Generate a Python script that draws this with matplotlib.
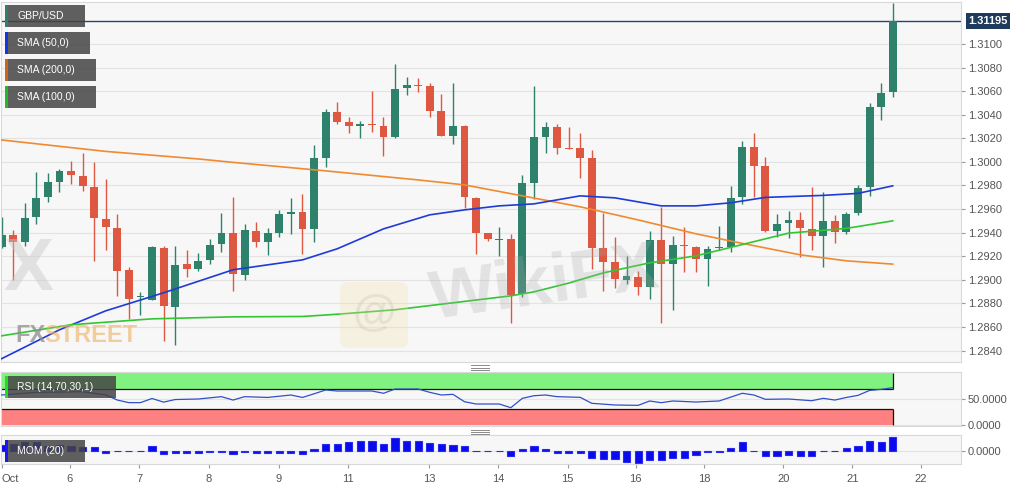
import numpy as np
import matplotlib
matplotlib.use('Agg')
import matplotlib.pyplot as plt
from matplotlib.patches import Rectangle, FancyBboxPatch
from matplotlib.lines import Line2D
import matplotlib.transforms as mtransforms

plt.rcParams['font.family'] = ['Liberation Sans', 'DejaVu Sans']

# GBP/USD 4h candles
opens = [1.29281, 1.29380, 1.29323, 1.29530, 1.29700, 1.29832, 1.29926, 1.29883, 1.29790, 1.29516,
         1.29442, 1.29083, 1.28850, 1.28829, 1.29267, 1.28772, 1.29132, 1.29092, 1.29168, 1.29301,
         1.29400, 1.29041, 1.29417, 1.29323, 1.29395, 1.29558, 1.29578, 1.29431, 1.30031, 1.30426,
         1.30336, 1.30305, 1.30322, 1.30307, 1.30209, 1.30625, 1.30653, 1.30644, 1.30435, 1.30223,
         1.30307, 1.29691, 1.29395, 1.29338, 1.29346, 1.28880, 1.29824, 1.30214, 1.30299, 1.30121,
         1.30116, 1.30031, 1.29267, 1.29154, 1.28999, 1.29027, 1.28942, 1.29338, 1.29134, 1.29295,
         1.29281, 1.29177, 1.29267, 1.29281, 1.29700, 1.30124, 1.29966, 1.29417, 1.29479, 1.29507,
         1.29429, 1.29372, 1.29501, 1.29408, 1.29564, 1.29785, 1.30469, 1.30596]
highs = [1.29535, 1.29423, 1.29649, 1.29912, 1.29904, 1.29938, 1.30011, 1.30073, 1.29997, 1.29855,
         1.29558, 1.29106, 1.28897, 1.29289, 1.29289, 1.29289, 1.29253, 1.29225, 1.29344, 1.29564,
         1.29705, 1.29473, 1.29488, 1.29437, 1.29592, 1.29691, 1.29725, 1.30144, 1.30449, 1.30506,
         1.30379, 1.30347, 1.30602, 1.30379, 1.30828, 1.30718, 1.30709, 1.30672, 1.30574, 1.30672,
         1.30313, 1.29705, 1.29401, 1.29446, 1.29389, 1.29889, 1.30644, 1.30341, 1.30319, 1.30299,
         1.30248, 1.30102, 1.29569, 1.29366, 1.29205, 1.29077, 1.29414, 1.29620, 1.29372, 1.29451,
         1.29287, 1.29287, 1.29459, 1.29798, 1.30178, 1.30243, 1.30044, 1.29558, 1.29581, 1.29573,
         1.29790, 1.29747, 1.29550, 1.29573, 1.29804, 1.30503, 1.30667, 1.31350]
lows = [1.29270, 1.28999, 1.29287, 1.29471, 1.29658, 1.29742, 1.29813, 1.29753, 1.29162, 1.29253,
        1.28865, 1.28665, 1.28702, 1.28825, 1.28484, 1.28447, 1.29027, 1.29077, 1.29132, 1.29234,
        1.28908, 1.28999, 1.29281, 1.29211, 1.29361, 1.29386, 1.29217, 1.29318, 1.29955, 1.30322,
        1.30248, 1.30200, 1.30257, 1.30053, 1.30200, 1.30568, 1.30591, 1.30379, 1.30216, 1.30152,
        1.29607, 1.29219, 1.29332, 1.29202, 1.28637, 1.28852, 1.29683, 1.30073, 1.30067, 1.30106,
        1.29861, 1.29092, 1.28905, 1.28928, 1.28965, 1.28871, 1.28837, 1.28637, 1.28744, 1.29064,
        1.29064, 1.28948, 1.29253, 1.29234, 1.29643, 1.29705, 1.29403, 1.29366, 1.29352, 1.29196,
        1.29253, 1.29111, 1.29310, 1.29386, 1.29550, 1.29711, 1.30356, 1.30553]
closes = [1.29380, 1.29318, 1.29522, 1.29691, 1.29827, 1.29926, 1.29889, 1.29796, 1.29522, 1.29446,
          1.29077, 1.28837, 1.28854, 1.29276, 1.28778, 1.29126, 1.29092, 1.29160, 1.29295, 1.29395,
          1.29049, 1.29423, 1.29323, 1.29395, 1.29558, 1.29578, 1.29429, 1.30036, 1.30426, 1.30341,
          1.30305, 1.30319, 1.30311, 1.30209, 1.30616, 1.30653, 1.30644, 1.30435, 1.30223, 1.30307,
          1.29700, 1.29400, 1.29346, 1.29346, 1.28871, 1.29819, 1.30209, 1.30294, 1.30116, 1.30110,
          1.30036, 1.29273, 1.29154, 1.29004, 1.29032, 1.28942, 1.29338, 1.29134, 1.29295, 1.29287,
          1.29177, 1.29259, 1.29276, 1.29696, 1.30124, 1.29968, 1.29417, 1.29473, 1.29507, 1.29437,
          1.29374, 1.29501, 1.29408, 1.29558, 1.29781, 1.30464, 1.30582, 1.31195]

# moving averages, sampled at candle indices
sma50_idx = [0, 5, 9, 14, 20, 26, 29, 33, 37, 40, 43, 46, 50, 53, 57, 60, 63, 66, 71, 74, 77]
sma50_val = [1.28331, 1.28576, 1.28737, 1.28890, 1.29085, 1.29169, 1.29263, 1.29432, 1.29551, 1.29593,
             1.29627, 1.29644, 1.29712, 1.29695, 1.29627, 1.29627, 1.29653, 1.29699, 1.29716, 1.29733,
             1.29797]
sma200_idx = [0, 9, 17, 20, 28, 36, 40, 45, 50, 55, 60, 64, 69, 73, 77]
sma200_val = [1.30186, 1.30089, 1.30025, 1.29996, 1.29924, 1.29847, 1.29805, 1.29712, 1.29619, 1.29508,
              1.29390, 1.29309, 1.29212, 1.29161, 1.29133]
sma100_idx = [0, 6, 13, 20, 26, 29, 34, 39, 44, 46, 49, 52, 56, 60, 63, 68, 73, 77]
sma100_val = [1.28525, 1.28619, 1.28669, 1.28686, 1.28689, 1.28708, 1.28746, 1.28805, 1.28864, 1.28898,
              1.28972, 1.29059, 1.29144, 1.29203, 1.29275, 1.29396, 1.29436, 1.29500]

rsi_idx = [0, 3, 7, 9, 10, 11, 12, 13, 14, 15, 17, 19, 20, 21, 23, 25, 26, 27, 28, 29,
           32, 33, 34, 36, 37, 38, 39, 40, 41, 43, 44, 45, 46, 47, 48, 50, 51, 53, 55, 56,
           57, 58, 60, 62, 64, 65, 66, 68, 70, 71, 72, 73, 74, 75, 76, 77]
rsi_val = [57.7, 62.8, 64, 58, 48, 43, 43, 51, 44, 49, 50, 54.5, 48, 54.5, 53, 57.7, 53, 60, 67.3, 65.4,
           65.4, 61, 69.2, 69.2, 62.8, 57.7, 59, 44.8, 40.4, 40.4, 33.3, 51.3, 56.3, 57.7, 54.5, 53.2, 41.7, 38.5, 37.8, 46.2,
           42.9, 46.2, 44.2, 46.2, 61, 57.7, 49.4, 50, 46.7, 51.3, 48, 53, 57, 66.5, 68.6, 71.7]

mom = [0.0083, 0.0097, 0.0130, 0.0130, 0.0072, 0.0083, 0.0072, 0.0048, 0.0058, -0.0029,
       -0.0007, -0.0004, -0.0004, 0.0068, -0.0043, -0.0029, -0.0029, -0.0029, -0.0022, -0.0014,
       -0.0043, -0.0014, -0.0029, -0.0029, -0.0029, -0.0029, -0.0054, 0.0022, 0.0091, 0.0091,
       0.0120, 0.0141, 0.0141, 0.0091, 0.0184, 0.0145, 0.0145, 0.0116, 0.0091, 0.0087,
       0.0068, 0.0002, 0.0001, -0.0004, -0.0072, 0.0025, 0.0072, 0.0025, -0.0039, -0.0029,
       -0.0029, -0.0112, -0.0120, -0.0120, -0.0159, -0.0174, -0.0135, -0.0135, -0.0101, -0.0101,
       -0.0062, -0.0022, -0.0014, 0.0033, 0.0120, -0.0007, -0.0083, -0.0083, -0.0068, -0.0077,
       -0.0077, -0.0007, -0.0007, 0.0043, 0.0072, 0.0145, 0.0120, 0.0203]

day_labels = ['Oct', '6', '7', '8', '9', '11', '13', '14', '15', '16', '18', '20', '21', '22']
day_pos = [0, 5.9, 11.9, 17.9, 23.95, 29.95, 36.95, 42.9, 48.9, 54.8, 60.7, 67.55, 73.5, 79.45]

price_ticks = np.arange(1.2840, 1.31001, 0.002)

W, H = 1031, 490


def fx(px):
    return px / W


def fy(py):
    return 1 - py / H


fig = plt.figure(figsize=(W / 100, H / 100), dpi=100, facecolor='white')

panel_bg = '#f7f7f7'
edge = '#d9d9d9'
lab_col = '#555555'
xmin, xmax = -0.05, 82.9

ax = fig.add_axes([fx(1), fy(362), fx(961) - fx(1), (362 - 2) / H])
ax_rsi = fig.add_axes([fx(1), fy(426), fx(961) - fx(1), (426 - 371.7) / H])
ax_mom = fig.add_axes([fx(1), fy(464.3), fx(961) - fx(1), (464.3 - 435) / H])

for a in (ax, ax_rsi, ax_mom):
    a.set_facecolor(panel_bg)
    a.set_xlim(xmin, xmax)
    for s in a.spines.values():
        s.set_color(edge)
        s.set_linewidth(0.8)
    a.yaxis.tick_right()
    a.tick_params(axis='y', direction='out', length=3, width=0.8, color='#999999',
                  labelcolor=lab_col, labelsize=8, pad=2)
    a.tick_params(axis='x', bottom=False, labelbottom=False)

# ---- main candles
o = np.array(opens)
h = np.array(highs)
l = np.array(lows)
c = np.array(closes)
x = np.arange(len(c))
up = c >= o
col = np.where(up, '#2e826c', '#de5740')

ax.vlines(x, l, h, colors=col, lw=1, zorder=2)
ax.bar(x, np.maximum(np.abs(c - o), 0.00012), bottom=np.minimum(o, c), width=0.68,
       color=col, linewidth=0, zorder=2.5)

ax.plot(sma200_idx, sma200_val, color='#f08a30', lw=1.2, zorder=3)
ax.plot(sma50_idx, sma50_val, color='#1f3bd6', lw=1.2, zorder=3)
ax.plot(sma100_idx, sma100_val, color='#33c633', lw=1.2, zorder=3)

ax.axhline(c[-1], color='#26456e', lw=1, zorder=1.8)

ax.set_ylim(1.28303, 1.31356)
ax.set_yticks(price_ticks)
ax.set_yticklabels(['%.4f' % v for v in price_ticks])
ax.grid(axis='y', color='#e3e3e3', lw=0.8, zorder=0)
ax.set_axisbelow(True)

blend = mtransforms.blended_transform_factory(ax.transAxes, ax.transData)
ax.text(1 + 27 / 960, c[-1], '%.5f' % c[-1], transform=blend, ha='center', va='center',
        color='white', fontsize=8, fontweight='bold', zorder=10,
        bbox=dict(boxstyle='square,pad=0.25', facecolor='#1f3b5c', edgecolor='none'))

# ---- watermarks
fig.text(fx(28), fy(270), 'X', fontsize=54, fontweight='bold', color='#c8c8c8', alpha=0.45,
         ha='center', va='center')
fig.text(fx(15), fy(342), 'FX', fontsize=17, fontweight='bold', color='#8c8c8c', alpha=0.75,
         ha='left', va='baseline')
fig.text(fx(44), fy(342), 'STREET', fontsize=17, fontweight='bold', color='#f0b060', alpha=0.6,
         ha='left', va='baseline')
fig.add_artist(FancyBboxPatch((fx(340), fy(348)), fx(68), 66 / H, boxstyle='round,pad=0,rounding_size=0.012',
                              transform=fig.transFigure, facecolor='#f3e0a8', edgecolor='none',
                              alpha=0.3, zorder=4))
fig.text(fx(374), fy(314), '@', fontsize=32, fontweight='bold', color='#9a9a9a', alpha=0.16,
         ha='center', va='center', zorder=4.5)
fig.text(fx(545), fy(285), 'WikiFX', fontsize=50, fontweight='bold', color='#a8a8a8', alpha=0.26,
         ha='center', va='center', rotation=8, zorder=4.5)

# ---- RSI panel
last = x[-1]
ax_rsi.fill_between([xmin, last], 70, 100, color='#80f27f', lw=0, zorder=1)
ax_rsi.fill_between([xmin, last], 0, 30, color='#ff8080', lw=0, zorder=1)
ax_rsi.hlines([70, 30], xmin, last, colors='#111111', lw=0.9, zorder=2)
ax_rsi.vlines(last, 70, 100, colors='#111111', lw=0.9, zorder=2)
ax_rsi.vlines(last, 0, 30, colors='#111111', lw=0.9, zorder=2)
ax_rsi.plot(rsi_idx, rsi_val, color='#3050c8', lw=0.9, zorder=3)
ax_rsi.set_ylim(-1.9, 102.5)
ax_rsi.set_yticks([0, 50])
ax_rsi.set_yticklabels(['0.0000', '50.0000'])
ax_rsi.grid(axis='y', color='#e3e3e3', lw=0.8, zorder=0)
ax_rsi.set_axisbelow(True)

# ---- Momentum panel
ax_mom.bar(x, mom, width=0.62, color='#0a0aee', edgecolor='#2a2aee', linewidth=0.8, zorder=2)
ax_mom.set_ylim(-0.0197, 0.02275)
ax_mom.set_yticks([0])
ax_mom.set_yticklabels(['0.0000'])
ax_mom.grid(axis='y', color='#e3e3e3', lw=0.8, zorder=0)
ax_mom.set_axisbelow(True)
ax_mom.set_xticks(day_pos)
ax_mom.set_xticklabels(day_labels)
ax_mom.tick_params(axis='x', bottom=True, labelbottom=True, direction='out', length=3,
                   width=0.8, color='#999999', labelcolor=lab_col, labelsize=8, pad=4)
ax_mom.get_xticklabels()[0].set_ha('left')

# ---- drag handles between panels
for yy in (365.5, 367.5, 369.5, 429.5, 431.5, 433.5):
    fig.add_artist(Line2D([fx(471), fx(489)], [fy(yy), fy(yy)], color='#8a8a8a', lw=0.7,
                          transform=fig.transFigure))


# ---- label tags
def tag(x0, y0, x1, y1, text, strip):
    fig.add_artist(Rectangle((fx(x0), fy(y1)), fx(x1) - fx(x0), (y1 - y0) / H, transform=fig.transFigure,
                             facecolor='#444444', alpha=0.85, edgecolor='none', zorder=6))
    fig.add_artist(Rectangle((fx(x0), fy(y1)), 3 / W, (y1 - y0) / H, transform=fig.transFigure,
                             facecolor=strip, edgecolor='none', zorder=7))
    fig.text(fx(x0 + 12), fy((y0 + y1) / 2), text, color='white', fontsize=7.5,
             ha='left', va='center', zorder=8)


tag(5, 5, 85, 27, 'GBP/USD', '#2e7d6e')
tag(5, 32, 90, 54, 'SMA (50,0)', '#1535e0')
tag(5, 59, 96, 81, 'SMA (200,0)', '#d0651a')
tag(5, 86, 96, 108, 'SMA (100,0)', '#22bb22')
tag(5, 376, 116, 398, 'RSI (14,70,30,1)', '#22dd22')
tag(5, 440, 85, 462, 'MOM (20)', '#1a1aee')

fig.savefig('out.png', dpi=100, facecolor='white')
